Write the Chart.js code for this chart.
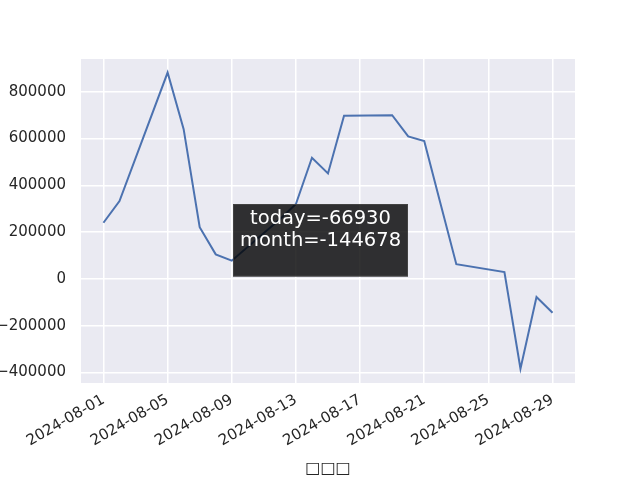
<!DOCTYPE html>
<html>
<head>
<meta charset="utf-8">
<script src="https://cdn.jsdelivr.net/npm/chart.js@4.4.1/dist/chart.umd.min.js"></script>
<style>
  html, body { margin: 0; padding: 0; background: #ffffff; }
  #wrap { width: 640px; height: 480px; position: relative; }
</style>
</head>
<body>
<div id="wrap"><canvas id="c" width="640" height="480"></canvas></div>
<script>
// ---- data ----
const dates = ["2024-08-01","2024-08-02","2024-08-05","2024-08-06","2024-08-07","2024-08-08","2024-08-09",
               "2024-08-12","2024-08-13","2024-08-14","2024-08-15","2024-08-16","2024-08-19","2024-08-20",
               "2024-08-21","2024-08-22","2024-08-23","2024-08-26","2024-08-27","2024-08-28","2024-08-29"];
const pnl = [240000, 333000, 882000, 640000, 221000, 105000, 78000,
             255000, 320000, 518000, 451000, 697000, 700000, 609000,
             589000, 325000, 63000, 29000, -384000, -77748, -144678];
const xTickLabels = ["2024-08-01","2024-08-05","2024-08-09","2024-08-13","2024-08-17","2024-08-21","2024-08-25","2024-08-29"];
const yTickValues = [-400000, -200000, 0, 200000, 400000, 600000, 800000];
const xTitle = "□□□";
const noteLines = ["today=-66930", "month=-144678"];

const DAY = 86400000;
const base = Date.parse("2024-08-01T00:00:00Z");
const toDay = s => (Date.parse(s + "T00:00:00Z") - base) / DAY;
const points = dates.map((d, i) => ({ x: toDay(d), y: pnl[i] }));
const xTickPos = xTickLabels.map(toDay);

const FONT = "'DejaVu Sans', sans-serif";
const TXT = "#262626";

const notePlugin = {
  id: "note",
  afterDatasetsDraw(chart) {
    const ctx = chart.ctx, a = chart.chartArea;
    const bx = a.left + 152, by = a.top + 145, bw = 175, bh = 72.5;
    ctx.save();
    ctx.fillStyle = "rgba(0,0,0,0.8)";
    ctx.fillRect(bx, by, bw, bh);
    ctx.strokeStyle = "rgba(70,70,70,0.9)";
    ctx.lineWidth = 1;
    ctx.strokeRect(bx + 0.5, by + 0.5, bw - 1, bh - 1);
    ctx.fillStyle = "#ffffff";
    ctx.font = "19.5px " + FONT;
    ctx.textAlign = "center";
    ctx.textBaseline = "alphabetic";
    const cx = bx + bw / 2;
    ctx.fillText(noteLines[0], cx, by + 20);
    ctx.fillText(noteLines[1], cx, by + 41.5);
    ctx.restore();
  }
};

const bgPlugin = {
  id: "bg",
  beforeDraw(chart) {
    const ctx = chart.ctx, a = chart.chartArea;
    ctx.save();
    ctx.fillStyle = "#ffffff";
    ctx.fillRect(0, 0, chart.width, chart.height);
    ctx.fillStyle = "#EAEAF2";
    ctx.fillRect(a.left, a.top, a.right - a.left, a.bottom - a.top);
    ctx.restore();
  }
};

new Chart(document.getElementById("c"), {
  type: "line",
  data: {
    datasets: [{
      data: points,
      borderColor: "#4C72B0",
      borderWidth: 2,
      pointRadius: 0,
      tension: 0,
      fill: false
    }]
  },
  options: {
    responsive: false,
    animation: false,
    devicePixelRatio: 1,
    layout: { padding: { left: 0, top: 59, right: 65, bottom: 0 } },
    plugins: { legend: { display: false }, tooltip: { enabled: false } },
    scales: {
      x: {
        type: "linear",
        min: -1.4,
        max: 29.4,
        afterBuildTicks: s => { s.ticks = xTickPos.map(v => ({ value: v })); },
        afterFit: s => { s.height = 97; },
        border: { display: false },
        grid: { color: "#ffffff", lineWidth: 1.5, drawTicks: false },
        ticks: {
          minRotation: 30, maxRotation: 30,
          padding: 8,
          color: TXT,
          font: { family: FONT, size: 15 },
          callback: (v, i) => xTickLabels[i]
        },
        title: {
          display: true, text: xTitle, color: TXT,
          font: { family: FONT, size: 16 },
          padding: { top: 0, bottom: 2 }
        }
      },
      y: {
        min: -445000,
        max: 940000,
        afterBuildTicks: s => { s.ticks = yTickValues.map(v => ({ value: v })); },
        afterFit: s => { s.width = 81; },
        border: { display: false },
        grid: { color: "#ffffff", lineWidth: 1.5, drawTicks: false },
        ticks: {
          padding: 15,
          color: TXT,
          font: { family: FONT, size: 15 },
          callback: v => (v < 0 ? "\u2212" + Math.abs(v) : String(v))
        }
      }
    }
  },
  plugins: [bgPlugin, notePlugin]
});
</script>
</body>
</html>
